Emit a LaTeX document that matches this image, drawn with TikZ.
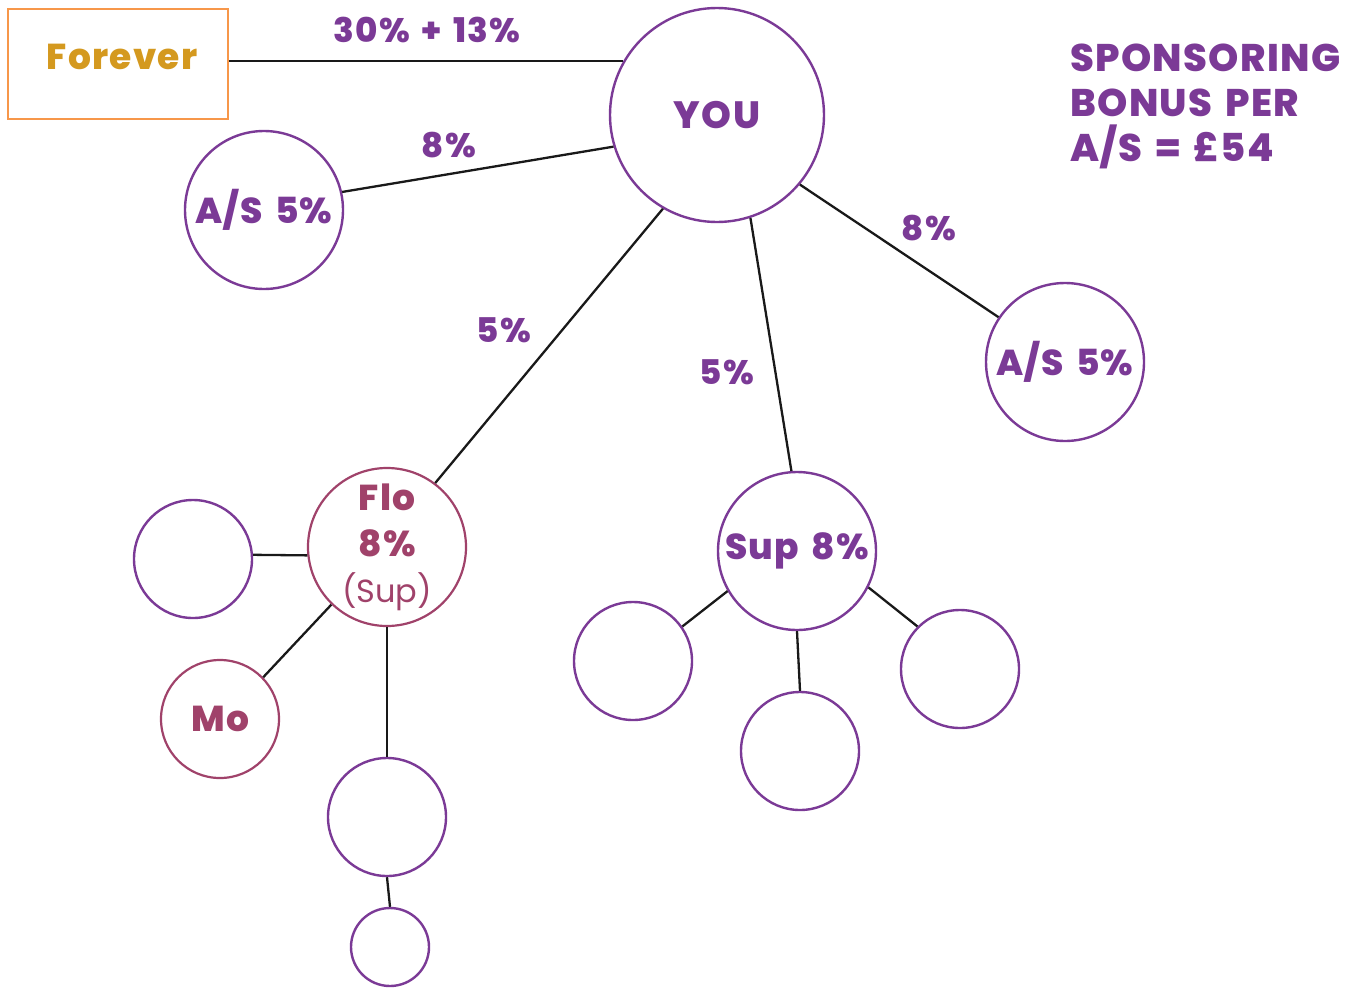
\documentclass[tikz,border=0pt]{standalone}
\usepackage{fontspec}
\setmainfont{Poppins}[BoldFont={Poppins ExtraBold}, BoldFeatures={LetterSpace=3.5, WordSpace=1.5}]
\definecolor{plum}{HTML}{7B3A96}
\definecolor{wine}{HTML}{A0426A}
\definecolor{gold}{HTML}{D4991F}
\definecolor{peach}{HTML}{F7974A}
\tikzset{
  member/.style={circle, draw=plum, line width=2.4pt, inner sep=0pt, minimum size=#1, text=plum, font=\fontsize{36}{46}\selectfont\bfseries},
  downline/.style={circle, draw=wine, line width=2.2pt, inner sep=0pt, minimum size=#1, text=wine, font=\fontsize{36}{46}\selectfont\bfseries},
  link/.style={draw=black!90, line width=2.3pt},
  rate/.style={text=plum, font=\fontsize{34}{38}\selectfont\bfseries},
}
\begin{document}
\begin{tikzpicture}[x=1pt, y=-1pt]
\useasboundingbox (0,0) rectangle (1362,988);

% company box
\node[draw=peach, line width=2.4pt, minimum width=220pt, minimum height=110pt] (forever) at (118,64) {};
\node[text=gold, font=\fontsize{36}{40}\selectfont\bfseries] (forevertext) at (122,57) {Forever};

% top of the tree
\node[member=214pt, font=\fontsize{38}{42}\selectfont\bfseries] (you) at (717,115) {YOU};
\node[member=158pt] (asl) at (264,210) {A/S 5\%};
\node[member=158pt] (asr) at (1065,362) {A/S 5\%};
\node[downline=158pt, align=center] (flo) at (387,547)
  {Flo\\8\%\\{\mdseries\fontsize{32}{46}\selectfont (Sup)}};
\node[member=158pt] (sup) at (797,551) {Sup 8\%};

% Flo's team
\node[member=118pt] (e1) at (193,559) {};
\node[downline=118pt] (mo) at (220,719) {Mo};
\node[member=118pt] (e2) at (387,817) {};
\node[member=78pt] (e3) at (390,947) {};

% Sup's team
\node[member=118pt] (c1) at (633,661) {};
\node[member=118pt] (c2) at (800,751) {};
\node[member=118pt] (c3) at (960,669) {};

% connectors
\draw[link] (forever.east |- you.150) -- (you.150);
\draw[link] (you.197) -- (asl.13);
\draw[link] (you.240) -- (flo.53);
\draw[link] (you.288) -- (sup.94);
\draw[link] (you.320) -- (asr.146);
\draw[link] (e1.4) -- (flo.186);
\draw[link] (flo.226) -- (mo.44);
\draw[link] (flo.south) -- (e2.north);
\draw[link] (e2.south) -- (e3.north);
\draw[link] (sup.210) -- (c1.35);
\draw[link] (sup.south) -- (c2.north);
\draw[link] (sup.333) -- (c3.135);

% percentages
\node[rate] (r0) at (427,30) {30\% + 13\%};
\node[rate] (r1) at (449,145) {8\%};
\node[rate] (r2) at (929,228) {8\%};
\node[rate] (r3) at (504,330) {5\%};
\node[rate] (r4) at (727,372) {5\%};

% bonus note
\node[anchor=north west, align=left, text=plum, inner sep=0pt,
      font=\fontsize{38.5}{45}\selectfont\bfseries] (note) at (1070,44)
  {SPONSORING\\BONUS PER\\A/S = £54};
\end{tikzpicture}
\end{document}
